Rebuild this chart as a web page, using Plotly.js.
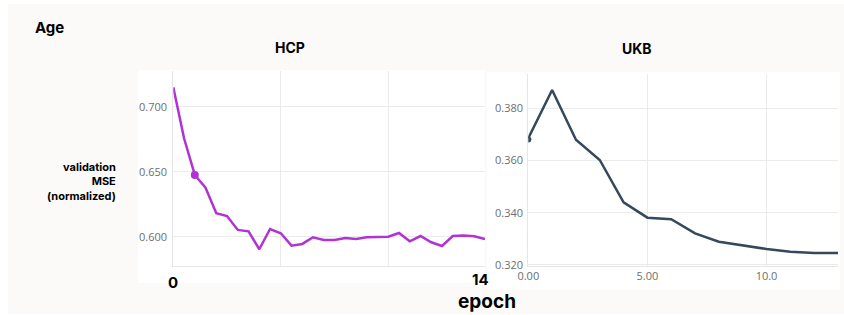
<!DOCTYPE html>
<html>
<head>
<meta charset="utf-8">
<script src="https://cdn.plot.ly/plotly-3.0.1.min.js"></script>
<style>html,body{margin:0;padding:0;background:#fff;}#chart{width:844px;height:315px;}</style>
</head>
<body>
<div id="chart"></div>
<script>
// HCP: validation MSE (normalized), sampled every half epoch
const hcpEpoch = [0,0.5,1,1.5,2,2.5,3,3.5,4,4.5,5,5.5,6,6.5,7,7.5,8,8.5,9,9.5,10,10.5,11,11.5,12,12.5,13,13.5,14,14.5];
const hcpMSE = [0.7149,0.6757,0.6475,0.6377,0.6180,0.6159,0.6052,0.6041,0.5903,0.6059,0.6026,0.5931,0.5944,0.5995,0.5975,0.5975,0.5990,0.5982,0.5995,0.6000,0.6000,0.6028,0.5964,0.6005,0.5957,0.5928,0.6005,0.6008,0.6003,0.5982];
const hcpMarkerEpoch = [1];
const hcpMarkerMSE = [0.6475];

// UKB: validation MSE (normalized), per epoch
const ukbEpoch = [0,1,2,3,4,5,6,7,8,9,10,11,12,13];
const ukbMSE = [0.3685,0.3870,0.3679,0.3602,0.3440,0.3381,0.3375,0.3321,0.3289,0.3276,0.3261,0.3251,0.3246,0.3246];
const ukbMarkerEpoch = [0];
const ukbMarkerMSE = [0.3680];

// tick labels
const hcpXTickVals = [0, 14.3];
const hcpXTickText = ['0', '14'];
const ukbXTickVals = [0, 5, 10];
const ukbXTickText = ['0.00', '5.00', '10.0'];

const W = 844, H = 315;
const px = v => v / W;
const py = v => 1 - v / H;

const purple = '#b133d3';
const slate = '#34495e';
const tickFont = {family: 'Open Sans, sans-serif', size: 11, color: '#6e6e6e'};
const boldFont = (s) => ({family: 'Inter, Roboto, sans-serif', size: s, color: '#000', weight: 700});

const traces = [
  {x: hcpEpoch, y: hcpMSE, type: 'scatter', mode: 'lines', line: {color: purple, width: 2.5}, xaxis: 'x', yaxis: 'y', hoverinfo: 'skip'},
  {x: hcpMarkerEpoch, y: hcpMarkerMSE, type: 'scatter', mode: 'markers', marker: {color: purple, size: 8}, xaxis: 'x', yaxis: 'y'},
  {x: ukbEpoch, y: ukbMSE, type: 'scatter', mode: 'lines', line: {color: slate, width: 2.5}, xaxis: 'x2', yaxis: 'y2'},
  {x: ukbMarkerEpoch, y: ukbMarkerMSE, type: 'scatter', mode: 'markers', marker: {color: slate, size: 6}, xaxis: 'x2', yaxis: 'y2'}
];

const gridColor = '#ebebeb';
const lineColor = '#e6e6e6';

const layout = {
  width: W, height: H,
  margin: {l: 0, r: 0, t: 0, b: 0},
  paper_bgcolor: '#ffffff',
  plot_bgcolor: '#ffffff',
  showlegend: false,
  xaxis: {
    domain: [px(173.3), px(485)], range: [0, 14.5], anchor: 'y',
    tickmode: 'array', tickvals: [5, 10], showticklabels: false,
    showgrid: true, gridcolor: gridColor, zeroline: false,
    showline: true, linecolor: lineColor, linewidth: 1, ticks: ''
  },
  yaxis: {
    domain: [py(265.5), py(71)], range: [0.5778, 0.7275], anchor: 'x',
    dtick: 0.05, tick0: 0.6, tickformat: '.3f', tickfont: tickFont,
    showgrid: true, gridcolor: gridColor, zeroline: false,
    showline: true, linecolor: lineColor, linewidth: 1, ticks: '', ticklabelstandoff: 3
  },
  xaxis2: {
    domain: [px(528.3), px(838)], range: [0, 13], anchor: 'y2',
    tickmode: 'array', tickvals: ukbXTickVals, ticktext: ukbXTickText, tickfont: tickFont,
    showgrid: true, gridcolor: gridColor, zeroline: false,
    showline: true, linecolor: lineColor, linewidth: 1, ticks: '', ticklabelstandoff: 0
  },
  yaxis2: {
    domain: [py(266), py(74)], range: [0.3196, 0.3931], anchor: 'x2',
    dtick: 0.02, tick0: 0.32, tickformat: '.3f', tickfont: tickFont,
    showgrid: true, gridcolor: gridColor, zeroline: false,
    showline: true, linecolor: lineColor, linewidth: 1, ticks: '', ticklabelstandoff: 2
  },
  shapes: [
    {type: 'rect', xref: 'paper', yref: 'paper', x0: px(8), x1: px(844), y0: py(314), y1: py(4), fillcolor: '#fbfaf8', line: {width: 0}, layer: 'below'},
    {type: 'rect', xref: 'paper', yref: 'paper', x0: px(138), x1: px(485), y0: py(283), y1: py(70), fillcolor: '#ffffff', line: {width: 0}, layer: 'below'},
    {type: 'rect', xref: 'paper', yref: 'paper', x0: px(487), x1: px(840), y0: py(290), y1: py(72), fillcolor: '#ffffff', line: {width: 0}, layer: 'below'}
  ],
  annotations: [
    {text: 'Age', xref: 'paper', yref: 'paper', x: px(33), y: py(27), xanchor: 'left', yanchor: 'middle', showarrow: false, font: boldFont(15)},
    {text: 'HCP', xref: 'paper', yref: 'paper', x: px(290), y: py(47), xanchor: 'center', yanchor: 'middle', showarrow: false, font: boldFont(14)},
    {text: 'UKB', xref: 'paper', yref: 'paper', x: px(637), y: py(48), xanchor: 'center', yanchor: 'middle', showarrow: false, font: boldFont(14)},
    {text: 'validation<br>MSE<br>(normalized)', xref: 'paper', yref: 'paper', x: px(118), y: py(181), xanchor: 'right', yanchor: 'middle', align: 'right', showarrow: false, font: boldFont(11)},
    {text: hcpXTickText[0], xref: 'x', yref: 'paper', x: hcpXTickVals[0], y: py(282), xanchor: 'center', yanchor: 'middle', showarrow: false, font: boldFont(15)},
    {text: hcpXTickText[1], xref: 'x', yref: 'paper', x: hcpXTickVals[1], y: py(279), xanchor: 'center', yanchor: 'middle', showarrow: false, font: boldFont(15)},
    {text: 'epoch', xref: 'paper', yref: 'paper', x: px(487), y: py(301), xanchor: 'center', yanchor: 'middle', showarrow: false, font: boldFont(19)}
  ]
};

Plotly.newPlot('chart', traces, layout, {staticPlot: true, displayModeBar: false});
</script>
</body>
</html>
